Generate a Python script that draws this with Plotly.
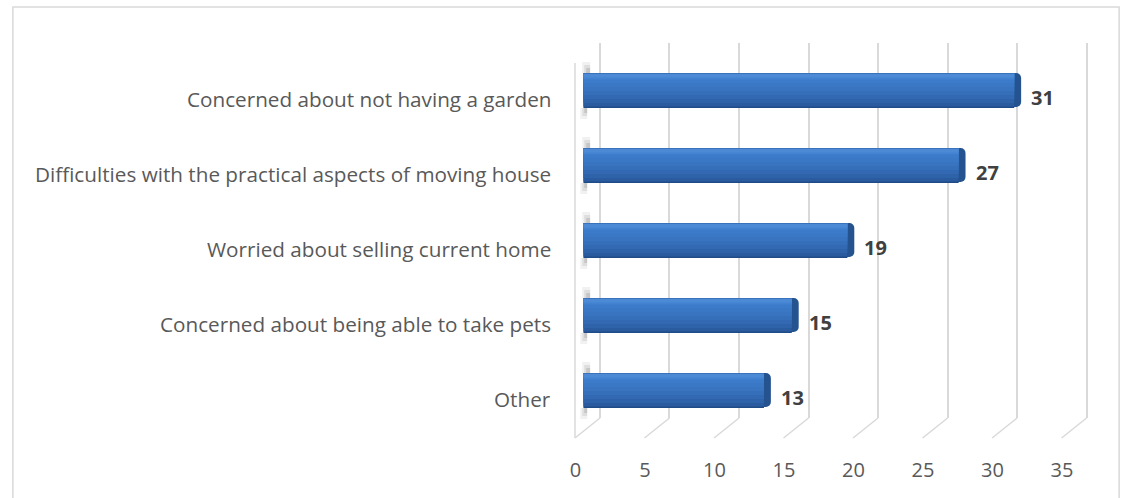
import plotly.graph_objects as go

# Survey responses: reasons for concern about moving
categories = [
    "Concerned about not having a garden",
    "Difficulties with the practical aspects of moving house",
    "Worried about selling current home",
    "Concerned about being able to take pets",
    "Other",
]
values = [31, 27, 19, 15, 13]
tick_values = [0, 5, 10, 15, 20, 25, 30, 35]

W, H = 1137, 498
FONT = "Open Sans"
LABEL_GREY = "#595959"
GRID = "#d9d9d9"
PX_PER_UNIT = 494 / 35  # horizontal scale shared by all planes


def fx(px):
    return px / W


def fy(py):
    return 1 - py / H


def x_domain(px_zero, lo, hi):
    return [fx(px_zero + lo * PX_PER_UNIT), fx(px_zero + hi * PX_PER_UNIT)]


fig = go.Figure()

# Back wall (gridlines) subplot: x / y
fig.add_trace(go.Scatter(x=[None], y=[None], xaxis="x", yaxis="y",
                         showlegend=False, hoverinfo="skip"))
# Front floor edge (tick labels) subplot: x2 / y2
fig.add_trace(go.Scatter(x=[None], y=[None], xaxis="x2", yaxis="y2",
                         showlegend=False, hoverinfo="skip"))

BAR_PX = 35.0
BAND_PX = 75.0
BAR_TOP_PX = 53  # top of the bar plane
TOP_OFFSET = -BAR_PX / 2 / BAND_PX

# Darker rounded end cap, set a few pixels further right (x3)
fig.add_trace(go.Bar(
    x=values, y=categories, orientation="h", xaxis="x3", yaxis="y3",
    width=(BAR_PX - 1) / BAND_PX, offset=TOP_OFFSET,
    marker=dict(color="#25538f", line=dict(width=0), cornerradius=5),
    showlegend=False, hoverinfo="skip",
))

# Front face + top face drawn as stacked layers for a bevelled look (x4)
layers = [
    # (top px, height px, colour)
    (0, 35, "#1f4b86"),
    (0, 33.5, "#2a5b9e"),
    (0, 30, "#2e63a9"),
    (0, 26, "#3269b2"),
    (0, 22, "#356fb9"),
    (0, 18, "#3874c0"),
    (0, 14, "#3a78c5"),
    (0, 10, "#3c7bc9"),
    (0, 6.5, "#4382d0"),
    (0, 4.5, "#4d8ad6"),
    (0, 1, "#3a72bb"),
]
for top, height, colour in layers:
    fig.add_trace(go.Bar(
        x=values, y=categories, orientation="h",
        xaxis="x4", yaxis="y3",
        width=height / BAND_PX,
        offset=TOP_OFFSET + top / BAND_PX,
        marker=dict(color=colour, line=dict(width=0)),
        showlegend=False, hoverinfo="skip",
    ))

annotations = []
# Category labels to the left of the side wall
for cat in categories:
    annotations.append(dict(
        x=0, y=cat, xref="x4", yref="y3",
        text=cat, showarrow=False,
        xanchor="right", yanchor="middle", xshift=-30, yshift=-8,
        font=dict(family=FONT, size=20.7, color=LABEL_GREY),
    ))
# Value labels beside each bar
for cat, val in zip(categories, values):
    annotations.append(dict(
        x=val, y=cat, xref="x4", yref="y3",
        text=f"<b>{val}</b>", showarrow=False,
        xanchor="left", yanchor="middle", xshift=15, yshift=-7,
        font=dict(family=FONT, size=20, color="#404040"),
    ))

shapes = []
# Floor lines running from the back wall to the front edge
for v in tick_values:
    shapes.append(dict(
        type="line", xref="x", yref="y domain",
        xsizemode="pixel", xanchor=v, x0=0, x1=-25,
        ysizemode="pixel", yanchor=0, y0=0, y1=-20,
        line=dict(color=GRID, width=1.5), layer="below",
    ))
# Front edge of the side wall
shapes.append(dict(
    type="line", xref="x", yref="y domain",
    xsizemode="pixel", xanchor=0, x0=-25, x1=-25,
    ysizemode="pixel", yanchor=0, y0=-20, y1=355,
    line=dict(color=GRID, width=1.5), layer="below",
))

# Soft shading where each bar meets the side wall
shade_steps = [
    # (left px, reach px, opacity)
    (584, 11, 0.07),
    (586, 8, 0.10),
    (588, 5, 0.14),
]
for i in range(len(categories)):
    top = BAR_TOP_PX + BAND_PX / 2 - BAR_PX / 2 + i * BAND_PX
    bottom = top + BAR_PX
    for left, reach, alpha in shade_steps:
        shapes.append(dict(
            type="rect", xref="paper", yref="paper",
            x0=fx(left + 1), x1=fx(593), y0=fy(top), y1=fy(top - reach),
            fillcolor=f"rgba(60,60,60,{alpha})", line=dict(width=0),
            layer="below",
        ))
        shapes.append(dict(
            type="rect", xref="paper", yref="paper",
            x0=fx(left - 1), x1=fx(590), y0=fy(bottom + reach), y1=fy(bottom),
            fillcolor=f"rgba(60,60,60,{alpha})", line=dict(width=0),
            layer="below",
        ))

# Chart border
shapes.append(dict(
    type="rect", xref="paper", yref="paper",
    x0=fx(7), x1=fx(1130), y0=fy(500), y1=fy(7),
    line=dict(color=GRID, width=1.5), layer="below",
))

fig.update_layout(
    width=W, height=H,
    margin=dict(l=0, r=0, t=0, b=0),
    paper_bgcolor="white", plot_bgcolor="rgba(0,0,0,0)",
    barmode="overlay",
    font=dict(family=FONT, color=LABEL_GREY),
    showlegend=False,
    shapes=shapes,
    annotations=annotations,
    xaxis=dict(
        domain=x_domain(603, -2, 36), range=[-2, 36], anchor="y",
        tickmode="array", tickvals=tick_values,
        showgrid=True, gridcolor=GRID, gridwidth=1.5,
        showticklabels=False, zeroline=False, showline=False, ticks="",
    ),
    yaxis=dict(
        domain=[fy(418), fy(43)], range=[0, 1], anchor="x",
        visible=False,
    ),
    xaxis2=dict(
        domain=x_domain(578, 0, 35), range=[0, 35], anchor="y2",
        tickmode="array", tickvals=tick_values,
        showgrid=False, zeroline=False, showline=False, ticks="",
        ticklabelstandoff=18,
        tickfont=dict(family=FONT, size=20, color=LABEL_GREY),
    ),
    yaxis2=dict(
        domain=[fy(438), fy(63)], range=[0, 1], anchor="x2",
        visible=False,
    ),
    xaxis3=dict(
        domain=x_domain(593, 0, 35), range=[0, 35], anchor="y3",
        visible=False,
    ),
    xaxis4=dict(
        domain=x_domain(586, 0, 35), range=[0, 35], anchor="y3",
        visible=False,
    ),
    yaxis3=dict(
        domain=[fy(BAR_TOP_PX + 5 * BAND_PX), fy(BAR_TOP_PX)], anchor="x4",
        type="category", categoryorder="array", categoryarray=categories,
        autorange="reversed",
        showgrid=False, zeroline=False, showline=False, ticks="",
        showticklabels=False,
    ),
)

fig.write_html("out.html")
